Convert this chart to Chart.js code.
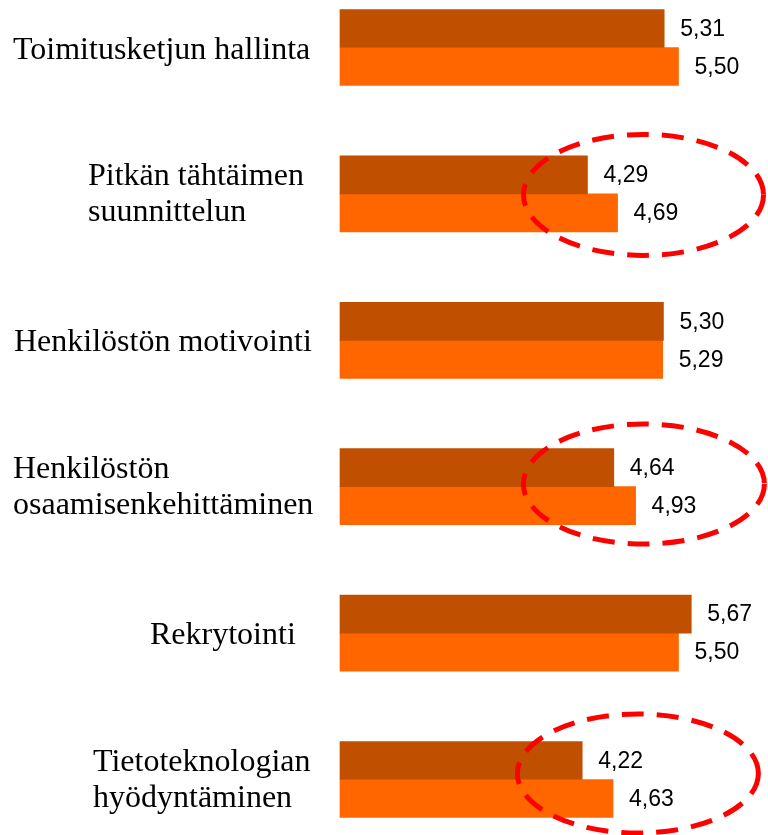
<!DOCTYPE html>
<html>
<head>
<meta charset="utf-8">
<script src="https://cdn.jsdelivr.net/npm/chart.js@4/dist/chart.umd.min.js"></script>
<style>
  html, body { margin: 0; padding: 0; background: #ffffff; overflow: hidden; }
  canvas { display: block; }
</style>
</head>
<body>
<canvas id="c" width="768" height="835"></canvas>
<script>
// ---- data ----
const categories = [
  'Toimitusketjun hallinta',
  ['Pitkän tähtäimen', 'suunnittelun'],
  'Henkilöstön motivointi',
  ['Henkilöstön', 'osaamisenkehittäminen'],
  'Rekrytointi',
  ['Tietoteknologian', 'hyödyntäminen']
];
const seriesA = [5.31, 4.29, 5.30, 4.64, 5.67, 4.22];
const seriesB = [5.50, 4.69, 5.29, 4.93, 5.50, 4.63];
const highlighted = [1, 3, 5];
const axisMin = 1;

// ---- styling (kept separate from data) ----
const labelLeft = [13, 88, 14, 13, 150, 93];
const ellipseStyle = [
  { x: 5.035, dy: 1, rx: 120, ry: 60.5 },
  { x: 5.04, dy: -2.7, rx: 120.5, ry: 60 },
  { x: 4.96, dy: -6, rx: 120.5, ry: 59.5 }
];

const fmt = v => v.toFixed(2).replace('.', ',');

const categoryLabelPlugin = {
  id: 'categoryLabels',
  afterDraw(chart) {
    const ctx = chart.ctx;
    const y = chart.scales.y;
    ctx.save();
    ctx.font = '32px "Liberation Serif", "Times New Roman", serif';
    ctx.fillStyle = '#000000';
    ctx.textAlign = 'left';
    ctx.textBaseline = 'alphabetic';
    categories.forEach((lab, i) => {
      const lines = Array.isArray(lab) ? lab : [lab];
      const c = y.getPixelForValue(i);
      const n = lines.length;
      lines.forEach((ln, j) => {
        const by = c + 11 + (j - (n - 1) / 2) * 36 - (n > 1 ? 1.5 : 0);
        ctx.fillText(ln, labelLeft[i], by);
      });
    });
    ctx.restore();
  }
};

const valueLabelPlugin = {
  id: 'valueLabels',
  afterDatasetsDraw(chart) {
    const ctx = chart.ctx;
    ctx.save();
    ctx.font = '23px "Liberation Sans", Arial, sans-serif';
    ctx.fillStyle = '#000000';
    ctx.textAlign = 'left';
    ctx.textBaseline = 'middle';
    chart.data.datasets.forEach((ds, di) => {
      const meta = chart.getDatasetMeta(di);
      meta.data.forEach((bar, i) => {
        ctx.fillText(fmt(ds.data[i]), bar.x + 16, bar.y + 1);
      });
    });
    ctx.restore();
  }
};

const ellipsePlugin = {
  id: 'ellipses',
  afterDraw(chart) {
    const ctx = chart.ctx;
    const xs = chart.scales.x, ys = chart.scales.y;
    ctx.save();
    ctx.strokeStyle = '#ff0000';
    ctx.lineWidth = 5;
    ctx.setLineDash([22, 13]);
    highlighted.forEach((idx, k) => {
      const s = ellipseStyle[k];
      const cx = xs.getPixelForValue(s.x);
      const cy = ys.getPixelForValue(idx) + s.dy;
      ctx.beginPath();
      ctx.ellipse(cx, cy, s.rx, s.ry, 0, 0, Math.PI * 2);
      ctx.stroke();
    });
    ctx.restore();
  }
};

new Chart(document.getElementById('c'), {
  type: 'bar',
  data: {
    labels: categories,
    datasets: [
      { label: 'Sarja 1', data: seriesA, backgroundColor: '#c04f00', barThickness: 38, base: axisMin, clip: false },
      { label: 'Sarja 2', data: seriesB, backgroundColor: '#ff6600', barThickness: 38, base: axisMin, clip: false }
    ]
  },
  options: {
    indexAxis: 'y',
    responsive: false,
    animation: false,
    devicePixelRatio: 1,
    layout: { padding: { top: 47.5, bottom: 55.5, left: 0, right: 0 } },
    plugins: { legend: { display: false }, tooltip: { enabled: false } },
    scales: {
      x: { display: false, min: axisMin, max: 6.69 },
      y: {
        offset: false,
        grid: { display: false },
        border: { display: false },
        ticks: { display: false },
        afterFit(scale) { scale.width = 340; }
      }
    }
  },
  plugins: [categoryLabelPlugin, valueLabelPlugin, ellipsePlugin]
});
</script>
</body>
</html>
